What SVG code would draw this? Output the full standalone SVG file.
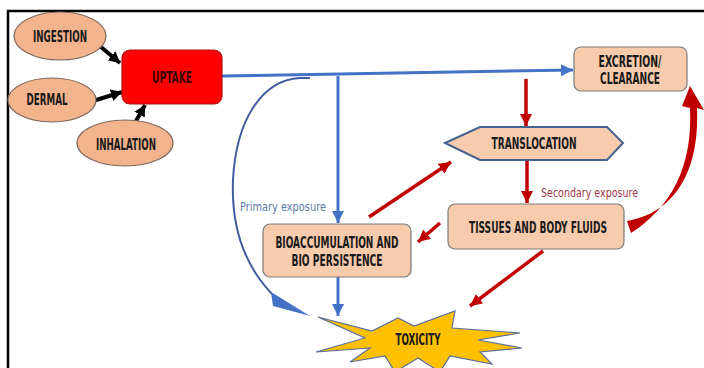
<svg xmlns="http://www.w3.org/2000/svg" width="704" height="368" viewBox="0 0 704 368">
<defs>
<style>
.lbl{font-family:"DejaVu Sans Condensed","DejaVu Sans",sans-serif;font-weight:bold;font-size:15px;fill:#1a1a1a;text-anchor:middle}
.ell{fill:#F3B38C;stroke:#7f6a5e;stroke-width:1.2}
.box{fill:#F8CBAD;stroke:#7a7a7a;stroke-width:1.2}
.blue{stroke:#4472C4;stroke-width:3;fill:none}
.red{stroke:#C00000;stroke-width:3.5;fill:none}
.blk{stroke:#000;stroke-width:4;fill:none}
</style>
<marker id="mb" markerUnits="userSpaceOnUse" markerWidth="14" markerHeight="14" refX="12" refY="6" orient="auto"><path d="M0,0 L12,6 L0,12 Z" fill="#4472C4"/></marker>
<marker id="mr" markerUnits="userSpaceOnUse" markerWidth="14" markerHeight="14" refX="12" refY="6" orient="auto"><path d="M0,0 L12,6 L0,12 Z" fill="#C00000"/></marker>
<marker id="mk" markerUnits="userSpaceOnUse" markerWidth="14" markerHeight="14" refX="11" refY="6" orient="auto"><path d="M0,0 L11,6 L0,12 Z" fill="#000"/></marker>
</defs>
<rect width="704" height="368" fill="#fff"/>
<path d="M8,368 L8,11 L704,11" fill="none" stroke="#000" stroke-width="2.5"/>

<g id="connectors">
<line class="blk" x1="101" y1="47" x2="120" y2="63" marker-end="url(#mk)"/>
<line class="blk" x1="93" y1="101" x2="122" y2="92" marker-end="url(#mk)"/>
<line class="blk" x1="136" y1="121" x2="145" y2="105" marker-end="url(#mk)"/>
<line class="blue" x1="222" y1="76" x2="573" y2="70" marker-end="url(#mb)"/>
<line class="blue" x1="338" y1="76" x2="338" y2="223" marker-end="url(#mb)"/>
<line class="blue" x1="338" y1="277" x2="338" y2="316" marker-end="url(#mb)"/>
<path d="M310,78 L300,78 C262,80 236,120 233,180 C231,230 245,268 276,298" fill="none" stroke="#3f5f9f" stroke-width="2"/>
<path d="M271,292 L273,306 L310,316 Z" fill="#4472C4"/>
<line class="red" x1="526" y1="79" x2="526" y2="126" marker-end="url(#mr)"/>
<line class="red" x1="527" y1="160" x2="527" y2="203" marker-end="url(#mr)"/>
<line class="red" x1="369" y1="217" x2="451" y2="162" marker-end="url(#mr)"/>
<line class="red" x1="440" y1="223" x2="418" y2="242" marker-end="url(#mr)"/>
<line class="red" x1="543" y1="251" x2="470" y2="306" marker-end="url(#mr)"/>
<path d="M627,221 C668,214 700,180 697,108 L704,110 L690,86 L682,106 L690,108 C693,168 670,208 631,233 Z" fill="#C00000"/>
</g>

<g id="ingestion"><ellipse class="ell" cx="60" cy="36" rx="46" ry="24"/><text class="lbl" x="60" y="42" textLength="54" lengthAdjust="spacingAndGlyphs">INGESTION</text></g>
<g id="dermal"><ellipse class="ell" cx="52" cy="100" rx="44" ry="22"/><text class="lbl" x="47" y="105" textLength="41" lengthAdjust="spacingAndGlyphs">DERMAL</text></g>
<g id="inhalation"><ellipse class="ell" cx="125" cy="143" rx="48" ry="23"/><text class="lbl" x="126" y="150" textLength="60" lengthAdjust="spacingAndGlyphs">INHALATION</text></g>
<g id="uptake"><rect x="122" y="50" width="100" height="54" rx="8" fill="#FF0000" stroke="#b01010" stroke-width="1.2"/><text class="lbl" x="172" y="83" textLength="40" lengthAdjust="spacingAndGlyphs" style="fill:#3a0505">UPTAKE</text></g>
<g id="excretion"><rect class="box" x="574" y="47" width="113" height="44" rx="7"/><text class="lbl" x="630" y="67" textLength="63" lengthAdjust="spacingAndGlyphs">EXCRETION/</text><text class="lbl" x="630" y="84" textLength="60" lengthAdjust="spacingAndGlyphs">CLEARANCE</text></g>
<g id="translocation"><polygon points="445,143 480,127 607,127 623,143 607,160 480,160" fill="#F8CBAD" stroke="#44628f" stroke-width="2"/><text class="lbl" x="534" y="149" textLength="85" lengthAdjust="spacingAndGlyphs">TRANSLOCATION</text></g>
<g id="tissues"><rect class="box" x="448" y="204" width="176" height="45" rx="7"/><text class="lbl" x="538" y="233" textLength="138" lengthAdjust="spacingAndGlyphs">TISSUES AND BODY FLUIDS</text></g>
<g id="bioaccumulation"><rect class="box" x="263" y="224" width="148" height="53" rx="7"/><text class="lbl" x="337" y="248" textLength="123" lengthAdjust="spacingAndGlyphs">BIOACCUMULATION AND</text><text class="lbl" x="337" y="266" textLength="91" lengthAdjust="spacingAndGlyphs">BIO PERSISTENCE</text></g>
<g id="toxicity"><path d="M318,317 L372,331 L398,318 L414,326 L455,311 L452,328 L520,333 L478,340 L522,348 L480,352 L492,364 L450,356 L440,372 L418,358 L395,372 L385,356 L350,362 L370,348 L316,352 L365,338 Z" fill="#FFC000" stroke="#5b6f9a" stroke-width="1.2"/><text class="lbl" x="418" y="345" textLength="45" lengthAdjust="spacingAndGlyphs">TOXICITY</text></g>
<g id="labels">
<text x="240" y="211" font-family="DejaVu Sans Condensed, DejaVu Sans, sans-serif" font-size="13" fill="#5b7aa8" textLength="86" lengthAdjust="spacingAndGlyphs">Primary exposure</text>
<text x="541" y="197" font-family="DejaVu Sans Condensed, DejaVu Sans, sans-serif" font-size="13" fill="#a03848" textLength="97" lengthAdjust="spacingAndGlyphs">Secondary exposure</text>
</g>
</svg>
